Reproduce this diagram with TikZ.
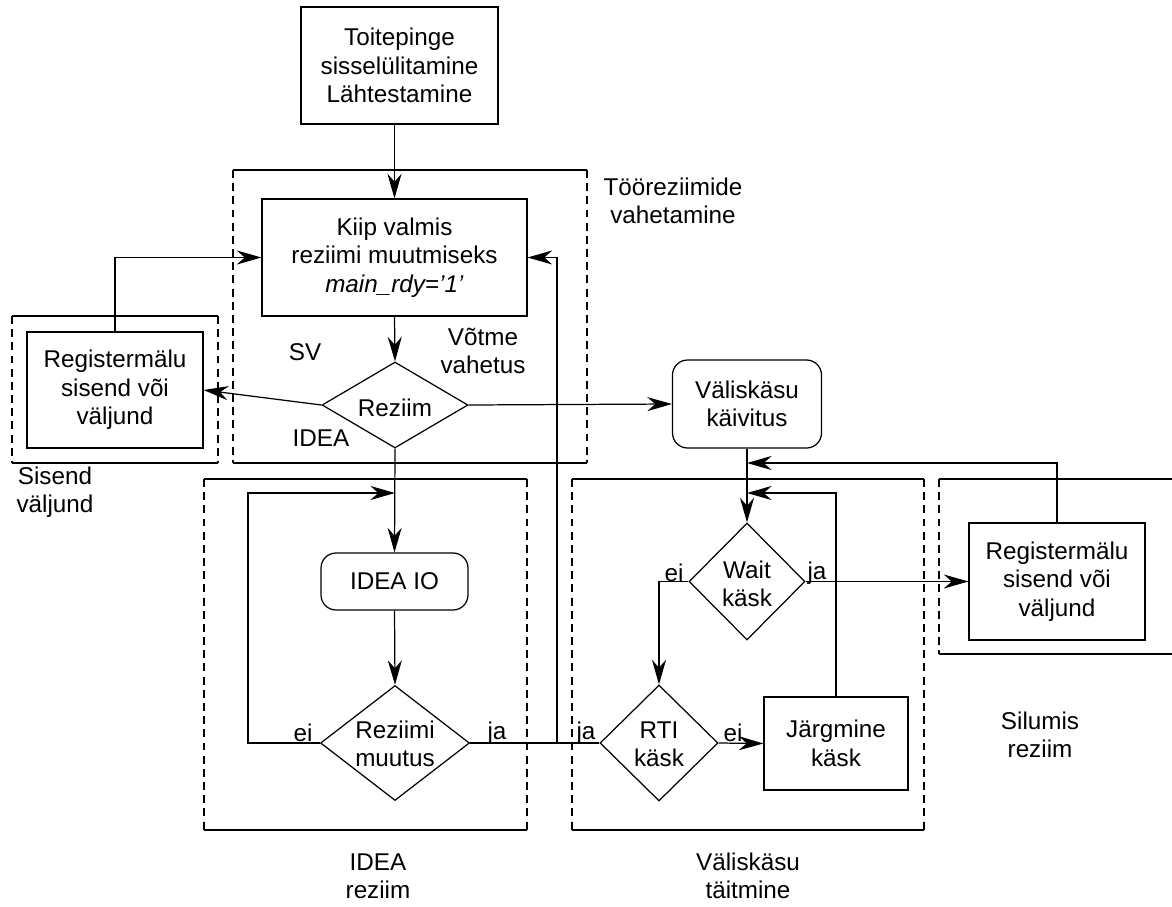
\documentclass[tikz,border=0pt]{standalone}
\usepackage{fontspec}
\setmainfont{Liberation Sans}
\usetikzlibrary{arrows.meta,shapes.geometric}

% solid top and bottom edges, dashed sides
\newcommand{\zoneframe}[4]{%
  \draw[frameedge] (#1,#2) -- (#3,#2);
  \draw[frameedge] (#1,#4) -- (#3,#4);
  \draw[frameside] (#1,#2) -- (#1,#4);
  \draw[frameside] (#3,#2) -- (#3,#4);
}

\begin{document}
\begin{tikzpicture}[x=0.02cm,y=-0.02cm,
  every node/.style={font=\fontsize{13.8}{16.2}\selectfont, align=center, inner sep=0pt},
  line width=0.7pt,
  box/.style={draw, rectangle},
  rbox/.style={draw, rectangle, rounded corners=0.3cm},
  dia/.style={draw, diamond},
  flow/.style={-{Stealth[length=14pt,width=8pt,inset=4.5pt]}},
  frameside/.style={dash pattern=on 4.5pt off 3pt, line width=0.6pt},
  frameedge/.style={line width=0.6pt},
]
\useasboundingbox (0,0) rectangle (1172,906);

% zones
\zoneframe{12}{316}{218}{463}
\zoneframe{233}{170}{587}{463}
\zoneframe{204}{479}{527}{830}
\zoneframe{572}{479}{924}{830}
\draw[frameedge] (939,479) -- (1172,479);
\draw[frameedge] (939,654) -- (1172,654);
\draw[frameside] (939,479) -- (939,654);

% boxes
\node[box, minimum width=3.94cm, minimum height=2.34cm] (toit) at (399.5,65.5)
  {Toitepinge\\sisselülitamine\\Lähtestamine};
\node[box, minimum width=5.3cm, minimum height=2.34cm] (kiip) at (394.5,257.5)
  {Kiip valmis\\reziimi muutmiseks\\\textit{main\_rdy=’1’}};
\node[box, minimum width=3.52cm, minimum height=2.32cm] (regL) at (115,390)
  {Registermälu\\sisend või\\väljund};
\node[rbox, minimum width=2.98cm, minimum height=1.76cm] (vkk) at (747,404)
  {Väliskäsu\\käivitus};
\node[rbox, minimum width=2.94cm, minimum height=1.14cm] (ideaio) at (394.5,581.5)
  {IDEA IO};
\node[box, minimum width=2.88cm, minimum height=1.86cm] (jarg) at (836,743.5)
  {Järgmine\\käsk};
\node[box, minimum width=3.52cm, minimum height=2.34cm] (regR) at (1057,581.5)
  {Registermälu\\sisend või\\väljund};

% decisions
\node[dia, minimum width=2.92cm, minimum height=1.72cm] (rez) at (395,405) {};
\node at (395,408) {Reziim};
\node[dia, minimum width=2.98cm, minimum height=2.3cm] (rmu) at (395,743) {};
\node at (395,744) {Reziimi\\muutus};
\node[dia, minimum width=2.32cm, minimum height=2.34cm] (wait) at (747,581.5) {};
\node at (747,584) {Wait\\käsk};
\node[dia, minimum width=2.36cm, minimum height=2.32cm] (rti) at (659,743) {};
\node at (659,744) {RTI\\käsk};

% junction points
\coordinate (ideain) at (395,493);
\coordinate (loopc) at (248,743);
\coordinate (jpt) at (557,743);
\coordinate (vin1) at (747,463);
\coordinate (vin2) at (747,493);

% connectors
\draw[flow] (toit.south -| kiip.north) -- (kiip.north);
\draw[flow] (kiip.south) -- (rez.north);
\draw[flow] (rez.west) -- (regL.east);
\draw[flow] (regL.north) |- (kiip.west);
\draw[flow] (rez.east) -- (vkk.west);
\draw[flow] (rez.south) -- (ideaio.north);
\draw[flow] (rmu.west) -- (loopc) |- (ideain);
\draw[flow] (ideaio.south) -- (rmu.north);
\draw[flow] (rmu.east) -- (jpt) |- (kiip.east);
\draw (rti.west) -- (jpt);
\draw[flow] (vkk.south) -- (wait.north);
\draw[flow] (regR.north) |- (vin1);
\draw[flow] (jarg.north) |- (vin2);
\draw[flow] (wait.west) -| (rti.north);
\draw[flow] (wait.east) -- (regR.west);
\draw[flow] (rti.east) -- (jarg.west);

% branch labels
\node (lsv) at (305,352) {SV};
\node (lvv) at (483,351) {Võtme\\vahetus};
\node (lid) at (321,438) {IDEA};
\node (lei1) at (303,733) {ei};
\node (lja1) at (497,733) {ja};
\node (lja2) at (586,733) {ja};
\node (lei2) at (733,733) {ei};
\node (lei3) at (674,573) {ei};
\node (lja3) at (817,573) {ja};

% zone captions
\node (csv) at (55,492) {Sisend\\väljund};
\node (ctr) at (673,201) {Tööreziimide\\vahetamine};
\node (cid) at (378,876) {IDEA\\reziim};
\node (cvt) at (748,876) {Väliskäsu\\täitmine};
\node (csr) at (1040,735) {Silumis\\reziim};
\end{tikzpicture}
\end{document}
